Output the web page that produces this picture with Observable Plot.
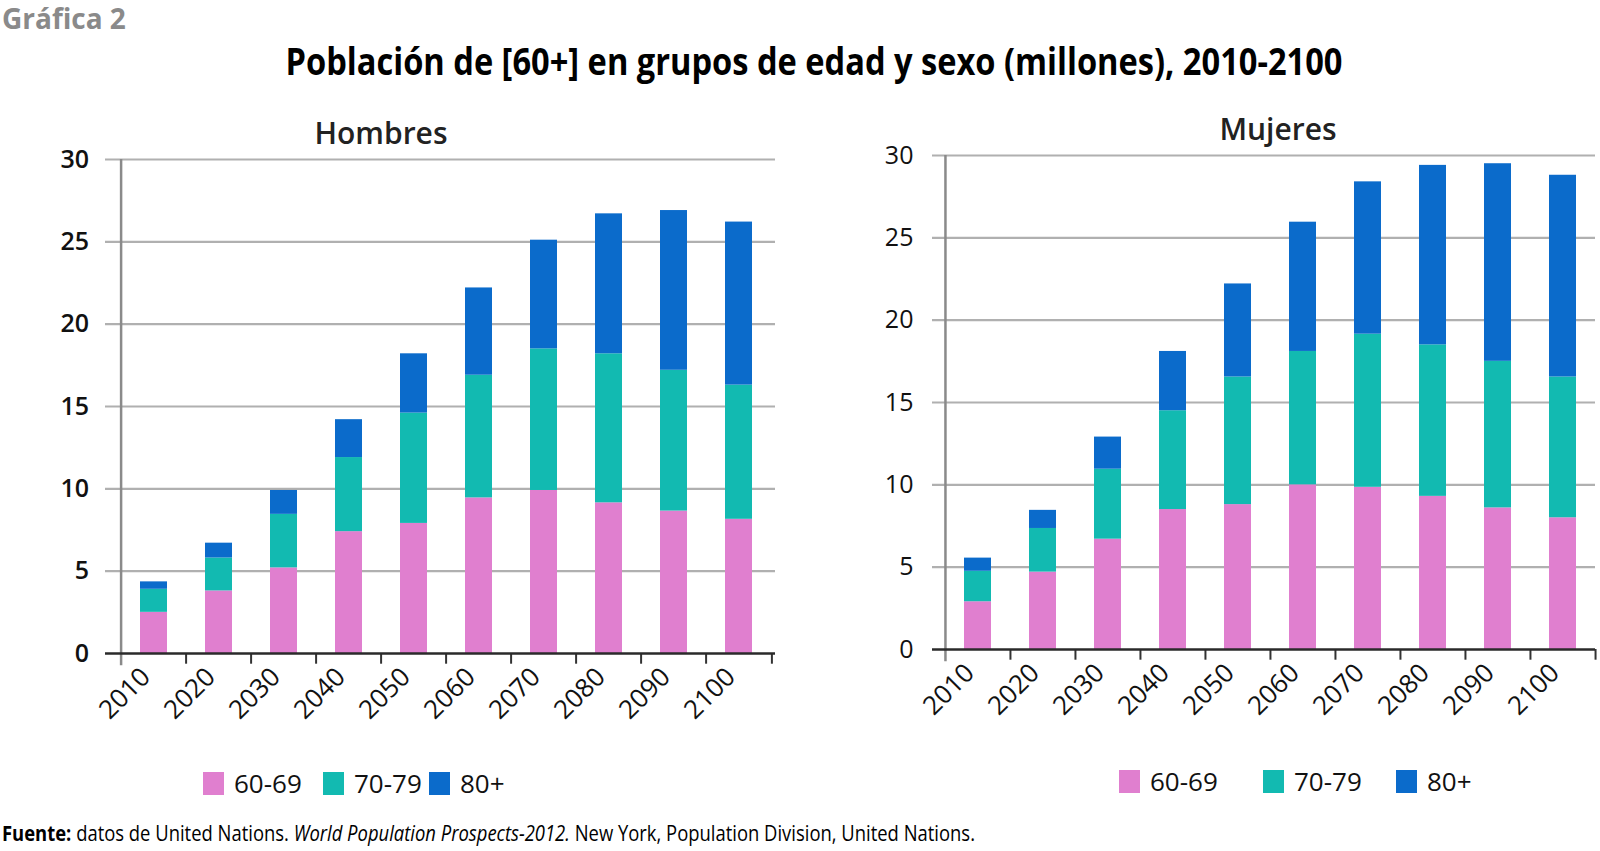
<!DOCTYPE html>
<html><head><meta charset="utf-8">
<script src="https://cdn.jsdelivr.net/npm/d3@7"></script>
<script src="https://cdn.jsdelivr.net/npm/@observablehq/plot@0.6"></script>
<style>
body{margin:0;width:1600px;height:851px;position:relative;background:#fff;overflow:hidden;font-family:"Open Sans",sans-serif;color:#111;}
.abs{position:absolute;white-space:nowrap;}
.leg{position:absolute;display:flex;align-items:center;font-size:26px;}
.sw{display:inline-block;width:21px;height:23px;margin-right:10px;}
svg{overflow:visible;}
</style></head><body>
<div class="abs" style="left:2px;top:0px;font-size:28px;font-weight:700;color:#8a8a8a;line-height:36px;">Gráfica 2</div>
<div class="abs" id="title" style="left:814px;top:37px;font-size:38px;font-weight:700;line-height:46px;color:#000;">Población de [60+] en grupos de edad y sexo (millones), 2010-2100</div>
<div class="abs" style="left:381px;transform:translateX(-50%);top:112px;font-size:30px;font-weight:600;line-height:42px;color:#222;">Hombres</div>
<div class="abs" style="left:1278px;transform:translateX(-50%);top:108px;font-size:30px;font-weight:600;line-height:42px;color:#222;">Mujeres</div>
<div id="hombres" class="abs" style="left:0;top:140px;"></div>
<div id="mujeres" class="abs" style="left:820px;top:136px;"></div>
<div id="legH"></div>
<div id="legM"></div>
<div class="abs" id="footer" style="left:2px;top:818px;font-size:22px;line-height:28px;color:#000;"><b>Fuente:</b> datos de United Nations. <i>World Population Prospects-2012.</i> New York, Population Division, United Nations.</div>
<script>
const years = [2010, 2020, 2030, 2040, 2050, 2060, 2070, 2080, 2090, 2100];
const groups = ["60-69", "70-79", "80+"];
const colors = ["#e07fcf", "#12bab1", "#0b6bcb"];
const yTicks = [0, 5, 10, 15, 20, 25, 30];

// Hombres (millones), por grupo de edad
const hombres6069 = [2.5, 3.8, 5.2, 7.4, 7.9, 9.45, 9.9, 9.15, 8.65, 8.15];
const hombres7079 = [1.4, 2.0, 3.25, 4.5, 6.7, 7.45, 8.6, 9.05, 8.55, 8.15];
const hombres80 = [0.45, 0.9, 1.45, 2.3, 3.6, 5.3, 6.6, 8.5, 9.7, 9.9];

// Mujeres (millones), por grupo de edad
const mujeres6069 = [2.9, 4.7, 6.7, 8.5, 8.8, 10.0, 9.85, 9.3, 8.6, 8.0];
const mujeres7079 = [1.85, 2.65, 4.25, 6.0, 7.75, 8.1, 9.3, 9.2, 8.9, 8.55];
const mujeres80 = [0.8, 1.1, 1.95, 3.6, 5.65, 7.85, 9.25, 10.9, 12.0, 12.25];

function rows(a, b, c) {
  return years.flatMap((y, i) => [
    {year: y, group: groups[0], value: a[i]},
    {year: y, group: groups[1], value: b[i]},
    {year: y, group: groups[2], value: c[i]}
  ]);
}

function panel({data, width, height, marginLeft, marginRight, marginTop, marginBottom, tickWeight}) {
  const step = (width - marginLeft - marginRight) / years.length;
  return Plot.plot({
    width, height, marginLeft, marginRight, marginTop, marginBottom,
    style: {fontFamily: "Open Sans", background: "transparent", overflow: "visible", color: "#111"},
    x: {domain: years, paddingInner: 0.59, paddingOuter: 0.295, axis: null},
    y: {domain: [0, 30], axis: null},
    color: {domain: groups, range: colors},
    marks: [
      Plot.ruleY(yTicks.filter(d => d > 0), {y: d => d, stroke: "#b0b0b0", strokeWidth: 2.2, insetLeft: -12}),
      Plot.barY(data, {x: "year", y: "value", fill: "group", order: groups}),
      Plot.ruleX([years[0]], {x: d => d, dx: -step / 2, y1: -0.75, y2: 30, stroke: "#8a8a8a", strokeWidth: 2.5}),
      Plot.ruleX(years.slice(1), {x: d => d, dx: -step / 2, y1: -0.65, y2: 0, stroke: "#333", strokeWidth: 2}),
      Plot.ruleX([years[years.length - 1]], {x: d => d, dx: step / 2, y1: -0.65, y2: 0, stroke: "#333", strokeWidth: 2}),
      Plot.ruleY([0], {y: d => d, stroke: "#2a2a2a", strokeWidth: 2.5, insetLeft: -12}),
      Plot.text(yTicks, {x: years[0], y: d => d, text: d => String(d), textAnchor: "end",
        dx: -step / 2 - 32, fontSize: 25, fontWeight: tickWeight, fill: "#111"}),
      Plot.text(years, {x: d => d, y: 0, text: d => String(d), rotate: -45, textAnchor: "end", lineAnchor: "middle",
        dx: -8, dy: 19, fontSize: 26, fill: "#111"})
    ]
  });
}

document.getElementById("hombres").append(panel({
  data: rows(hombres6069, hombres7079, hombres80),
  width: 800, height: 600, marginLeft: 117, marginRight: 25, marginTop: 19, marginBottom: 87, tickWeight: 600
}));
document.getElementById("mujeres").append(panel({
  data: rows(mujeres6069, mujeres7079, mujeres80),
  width: 780, height: 600, marginLeft: 124, marginRight: 5, marginTop: 19, marginBottom: 87, tickWeight: 500
}));

function legend(id, items) {
  const host = document.getElementById(id);
  items.forEach(([left, top, i]) => {
    const el = document.createElement("div");
    el.className = "leg";
    el.style.left = left + "px";
    el.style.top = top + "px";
    el.innerHTML = `<span class="sw" style="background:${colors[i]}"></span><span>${groups[i]}</span>`;
    host.append(el);
  });
}
legend("legH", [[203, 765, 0], [323, 765, 1], [429, 765, 2]]);
legend("legM", [[1119, 763, 0], [1263, 763, 1], [1396, 763, 2]]);

function fit() {
  const t = document.getElementById("title");
  t.style.transform = "none";
  const wt = t.getBoundingClientRect().width;
  t.style.transformOrigin = "center center";
  t.style.transform = `translateX(-50%) scaleX(${1057 / wt})`;
  const f = document.getElementById("footer");
  f.style.transform = "none";
  const wf = f.getBoundingClientRect().width;
  f.style.transformOrigin = "left center";
  f.style.transform = `scaleX(${973 / wf})`;
}
fit();
if (document.fonts && document.fonts.ready) document.fonts.ready.then(fit);
</script>
</body></html>
